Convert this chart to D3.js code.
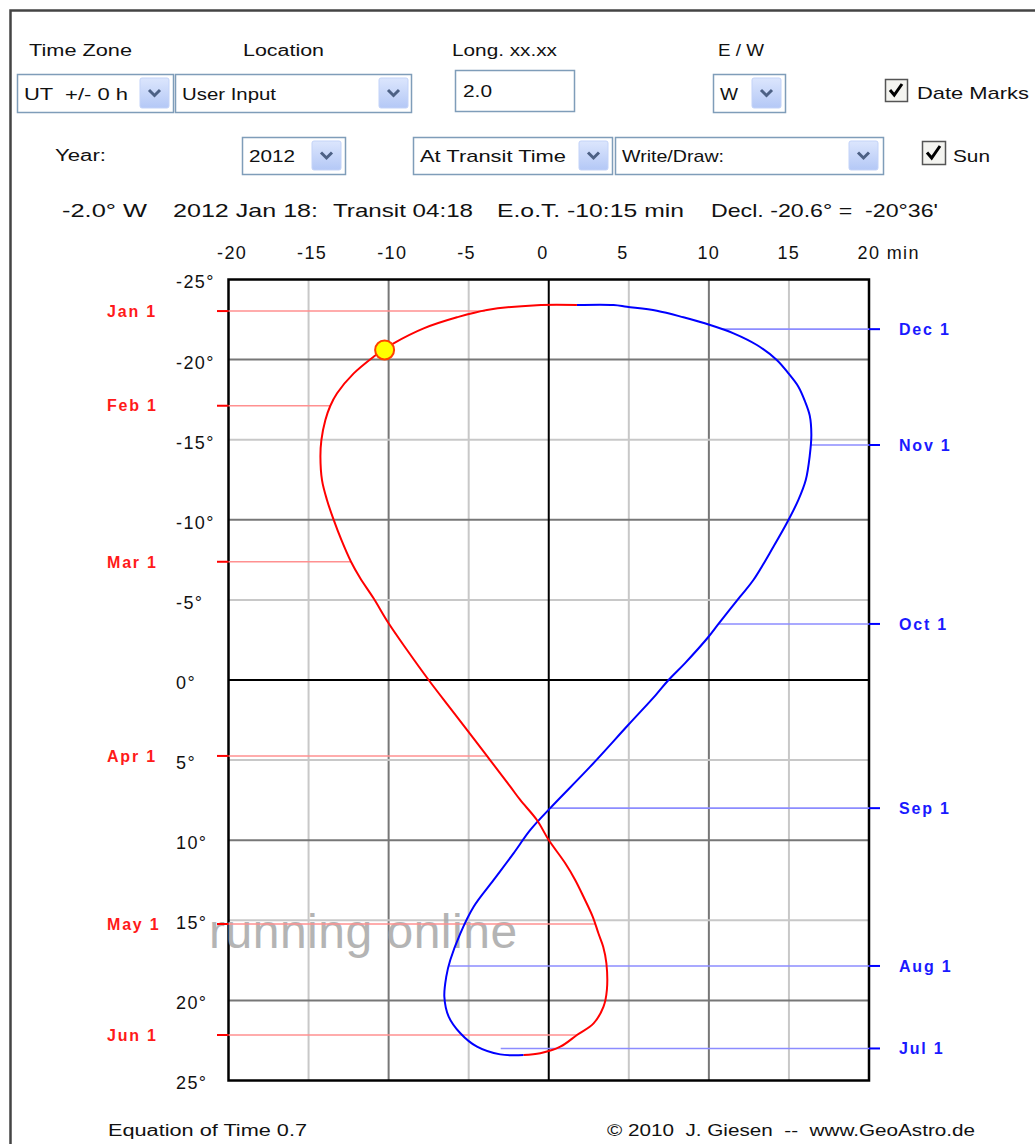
<!DOCTYPE html>
<html>
<head>
<meta charset="utf-8">
<script src="https://cdn.jsdelivr.net/npm/d3@7"></script>
<style>
  html, body { margin: 0; padding: 0; background: #fff; }
  svg { display: block; }
  text { font-family: "Liberation Sans", Arial, sans-serif; }
</style>
</head>
<body>
<svg id="chart" width="1035" height="1144"></svg>
<script>
// ---------------- data ----------------
// Analemma: red branch (Dec 21 -> Jun 21), blue branch (Jun 21 -> Dec 21)
const redEot  = [1.76, -0.74, -3.86, -5.73, -7.81, -9.69, -10.27, -10.94, -12.18, -13.22, -13.64, -13.95, -14.20, -14.26, -14.16, -13.85, -13.43, -12.95, -12.35, -11.77, -10.94, -10.00, -8.85, -7.50, -5.90, -3.86, -2.40, -1.78, -0.74, 0.00, 1.03, 1.65, 2.17, 2.75, 3.10, 3.40, 3.60, 3.63, 3.42, 2.80, 1.76, 0.72, -0.53, -1.57];
const redDecl = [-23.41, -23.40, -23.10, -22.64, -21.95, -21.02, -20.66, -20.18, -19.14, -17.90, -17.12, -16.23, -14.98, -13.94, -12.48, -11.24, -9.99, -8.74, -7.38, -6.35, -5.10, -3.54, -1.87, 0.00, 2.08, 4.74, 6.66, 7.49, 8.74, 9.99, 11.44, 12.48, 13.53, 14.78, 15.81, 16.65, 17.68, 19.35, 20.39, 21.43, 22.16, 22.89, 23.30, 23.41];
const blueEot  = [-1.57, -3.03, -4.48, -5.52, -6.25, -6.52, -6.40, -6.15, -5.52, -4.69, -3.44, -2.20, -1.15, 0.09, 2.59, 4.96, 6.68, 7.48, 8.50, 9.98, 10.60, 11.95, 12.78, 14.03, 14.97, 15.59, 16.05, 16.30, 16.40, 16.30, 16.00, 15.59, 14.97, 14.24, 13.00, 11.54, 10.08, 8.41, 6.75, 4.88, 4.05, 1.76];
const blueDecl = [23.41, 23.37, 22.89, 22.05, 21.01, 19.77, 18.52, 17.48, 15.81, 14.15, 12.48, 10.82, 9.36, 8.00, 5.41, 2.81, 0.94, 0.00, -1.04, -2.70, -3.50, -5.20, -6.24, -8.32, -9.99, -11.24, -12.48, -14.00, -15.30, -16.50, -17.40, -18.31, -19.14, -19.98, -20.91, -21.64, -22.16, -22.64, -23.05, -23.30, -23.41, -23.41];

// Date marks
const leftDates = ["Jan 1", "Feb 1", "Mar 1", "Apr 1", "May 1", "Jun 1"];
const leftDecl  = [-23.03, -17.12, -7.38, 4.74, 15.23, 22.16];
const leftEot   = [-4.0, -13.64, -12.35, -3.86, 2.9, 1.8];
const rightDates = ["Jul 1", "Aug 1", "Sep 1", "Oct 1", "Nov 1", "Dec 1"];
const rightDecl  = [23.0, 17.85, 8.0, -3.5, -14.67, -21.9];
const rightEot   = [-3.0, -6.2, 0.1, 10.6, 16.32, 10.8];

// Sun position (2012 Jan 18)
const sunEot = -10.25;
const sunDecl = -20.6;

// Axis ticks
const xTicks = [-20, -15, -10, -5, 0, 5, 10, 15, 20];
const yTicks = [-25, -20, -15, -10, -5, 0, 5, 10, 15, 20, 25];

// Texts
const titleParts = ["-2.0° W", "2012 Jan 18:", "Transit 04:18", "E.o.T. -10:15 min", "Decl. -20.6° =  -20°36'"];
const headerLabels = ["Time Zone", "Location", "Long. xx.xx", "E / W"];

// ---------------- drawing ----------------
const svg = d3.select("#chart");
const defs = svg.append("defs");
const grad = defs.append("linearGradient").attr("id", "btnGrad").attr("x1", 0).attr("y1", 0).attr("x2", 0).attr("y2", 1);
grad.append("stop").attr("offset", "0%").attr("stop-color", "#dce6fd");
grad.append("stop").attr("offset", "100%").attr("stop-color", "#b4c8f6");

// outer frame
svg.append("rect").attr("x", 10.5).attr("y", 10.5).attr("width", 1100).attr("height", 1200)
  .attr("fill", "none").attr("stroke", "#444").attr("stroke-width", 2.5);

function label(str, x, yb, size, width, opts = {}) {
  const t = svg.append("text").attr("x", x).attr("y", yb)
    .attr("font-size", size).attr("fill", opts.fill || "#111")
    .style("white-space", "pre").text(str);
  if (width) t.attr("textLength", width).attr("lengthAdjust", "spacingAndGlyphs");
  if (opts.weight) t.attr("font-weight", opts.weight);
  return t;
}

function selectBox(x0, y0, w, h, str, tw, bx) {
  svg.append("rect").attr("x", x0 + 0.5).attr("y", y0 + 0.5).attr("width", w).attr("height", h)
    .attr("fill", "#fff").attr("stroke", "#7f9db9").attr("stroke-width", 1.5);
  label(str, x0 + 7, y0 + h * 0.68, 17, tw);
  if (bx != null) {
    svg.append("rect").attr("x", bx).attr("y", y0 + 4).attr("width", 29).attr("height", h - 8)
      .attr("rx", 2).attr("fill", "url(#btnGrad)").attr("stroke", "#c3d3f8");
    const cx = bx + 14.5, cy = y0 + h / 2;
    svg.append("path").attr("d", `M${cx - 5.5},${cy - 3} L${cx},${cy + 2.5} L${cx + 5.5},${cy - 3}`)
      .attr("fill", "none").attr("stroke", "#4d6185").attr("stroke-width", 3);
  }
}

function checkBox(x0, y0, s) {
  svg.append("rect").attr("x", x0 + 0.5).attr("y", y0 + 0.5).attr("width", s).attr("height", s)
    .attr("fill", "#f4f4f0").attr("stroke", "#555").attr("stroke-width", 1.5);
  svg.append("path").attr("d", `M${x0 + 5},${y0 + s * 0.5} L${x0 + s * 0.42},${y0 + s - 6} L${x0 + s - 5},${y0 + 5}`)
    .attr("fill", "none").attr("stroke", "#000").attr("stroke-width", 3);
}

// header row 1
const hdrX = [29, 243, 452, 718];
const hdrW = [103, 81, 105, 46];
headerLabels.forEach((s, i) => label(s, hdrX[i], 56, 16, hdrW[i]));
selectBox(17, 74, 156, 38, "UT  +/- 0 h", 104, 140);
selectBox(175, 74, 236, 38, "User Input", 94, 379);
svg.append("rect").attr("x", 455.5).attr("y", 70.5).attr("width", 119).attr("height", 41)
  .attr("fill", "#fff").attr("stroke", "#7f9db9").attr("stroke-width", 1.5);
label("2.0", 463, 97, 17, 29);
selectBox(713, 74, 72, 38, "W", 18, 752);
checkBox(885, 79, 22);
label("Date Marks", 917, 99, 17, 112);

// header row 2
label("Year:", 55, 161, 16, 51);
selectBox(242, 137, 103, 37, "2012", 46, 312);
selectBox(413, 137, 199, 37, "At Transit Time", 146, 579);
selectBox(615, 137, 268, 37, "Write/Draw:", 102, 849);
checkBox(922, 141, 23);
label("Sun", 953, 162, 17, 37);

// title line
const titleX = [62, 173, 333, 497, 711];
const titleW = [85, 145, 140, 187, 227];
titleParts.forEach((s, i) => label(s, titleX[i], 217, 19, titleW[i]));

// scales
const x = d3.scaleLinear().domain([-20, 20]).range([228.5, 869]);
const y = d3.scaleLinear().domain([-25, 25]).range([279.5, 1080.5]);

function gridColor(v) {
  if (v === 0) return "#000";
  if (v % 10 === 0) return "#777";
  return "#c8c8c8";
}

const grid = svg.append("g");
xTicks.filter(v => v !== -20 && v !== 20 && v !== 0).forEach(v => {
  grid.append("line").attr("x1", x(v)).attr("x2", x(v)).attr("y1", y(-25)).attr("y2", y(25))
    .attr("stroke", gridColor(v)).attr("stroke-width", 2);
});
yTicks.filter(v => v !== -25 && v !== 25 && v !== 0).forEach(v => {
  grid.append("line").attr("x1", x(-20)).attr("x2", x(20)).attr("y1", y(v)).attr("y2", y(v))
    .attr("stroke", gridColor(v)).attr("stroke-width", 2);
});
grid.append("line").attr("x1", x(0)).attr("x2", x(0)).attr("y1", y(-25)).attr("y2", y(25)).attr("stroke", "#000").attr("stroke-width", 2);
grid.append("line").attr("x1", x(-20)).attr("x2", x(20)).attr("y1", y(0)).attr("y2", y(0)).attr("stroke", "#000").attr("stroke-width", 2);
grid.append("rect").attr("x", x(-20)).attr("y", y(-25)).attr("width", x(20) - x(-20)).attr("height", y(25) - y(-25))
  .attr("fill", "none").attr("stroke", "#000").attr("stroke-width", 2.5);

// x axis (top)
const xAxis = d3.axisTop(x).tickValues(xTicks).tickSize(0)
  .tickFormat(d => d === 20 ? "20 min" : String(d));
const gx = svg.append("g").call(xAxis);
gx.select(".domain").remove();
gx.selectAll("text").attr("y", 259).attr("dy", null).attr("dx", -12)
  .attr("text-anchor", "start").attr("font-size", 18).attr("font-family", "Liberation Sans, Arial, sans-serif")
  .attr("letter-spacing", 1.4).attr("fill", "#111");

// y axis (left)
const yAxis = d3.axisLeft(y).tickValues(yTicks).tickSize(0).tickFormat(d => d + "°");
const gy = svg.append("g").call(yAxis);
gy.select(".domain").remove();
gy.selectAll("text").attr("x", 176).attr("dy", "0.36em").attr("y", 2)
  .attr("text-anchor", "start").attr("font-size", 18).attr("font-family", "Liberation Sans, Arial, sans-serif")
  .attr("letter-spacing", 1.4).attr("fill", "#111");

// watermark
svg.append("text").attr("x", 209).attr("y", 948).attr("font-size", 48)
  .attr("fill", "#a8a8a8").attr("opacity", 0.85).attr("letter-spacing", 0.5)
  .text("running online");

// date marks
const marks = svg.append("g");
leftDates.forEach((s, i) => {
  const yy = y(leftDecl[i]);
  marks.append("line").attr("x1", x(-20)).attr("x2", x(leftEot[i])).attr("y1", yy).attr("y2", yy)
    .attr("stroke", "#ff9090").attr("stroke-width", 1.6);
  marks.append("line").attr("x1", 217).attr("x2", x(-20)).attr("y1", yy).attr("y2", yy)
    .attr("stroke", "#ff0000").attr("stroke-width", 2);
  marks.append("text").attr("x", 107).attr("y", yy).attr("dy", "0.36em")
    .attr("font-size", 16).attr("font-weight", "bold").attr("letter-spacing", 1.8)
    .attr("fill", "#ff1a1a").text(s);
});
rightDates.forEach((s, i) => {
  const yy = y(rightDecl[i]);
  marks.append("line").attr("x1", x(rightEot[i])).attr("x2", x(20)).attr("y1", yy).attr("y2", yy)
    .attr("stroke", "#8c8cff").attr("stroke-width", 1.6);
  marks.append("line").attr("x1", x(20)).attr("x2", 880).attr("y1", yy).attr("y2", yy)
    .attr("stroke", "#0000ff").attr("stroke-width", 2);
  marks.append("text").attr("x", 899).attr("y", yy).attr("dy", "0.36em")
    .attr("font-size", 16).attr("font-weight", "bold").attr("letter-spacing", 1.8)
    .attr("fill", "#1a1aff").text(s);
});

// curves
const line = d3.line().x(d => x(d[0])).y(d => y(d[1])).curve(d3.curveCatmullRom.alpha(0.5));
const redPts = redEot.map((e, i) => [e, redDecl[i]]);
const bluePts = blueEot.map((e, i) => [e, blueDecl[i]]);
svg.append("path").attr("d", line(bluePts)).attr("fill", "none").attr("stroke", "#0000ff").attr("stroke-width", 2);
svg.append("path").attr("d", line(redPts)).attr("fill", "none").attr("stroke", "#ff0000").attr("stroke-width", 2);

// sun
svg.append("circle").attr("cx", x(sunEot)).attr("cy", y(sunDecl)).attr("r", 9.5)
  .attr("fill", "#ffff00").attr("stroke", "#ff4000").attr("stroke-width", 2);

// footer
label("Equation of Time 0.7", 108, 1136, 16, 199);
label("© 2010  J. Giesen  --  www.GeoAstro.de", 607, 1136, 16, 368);
</script>
</body>
</html>
